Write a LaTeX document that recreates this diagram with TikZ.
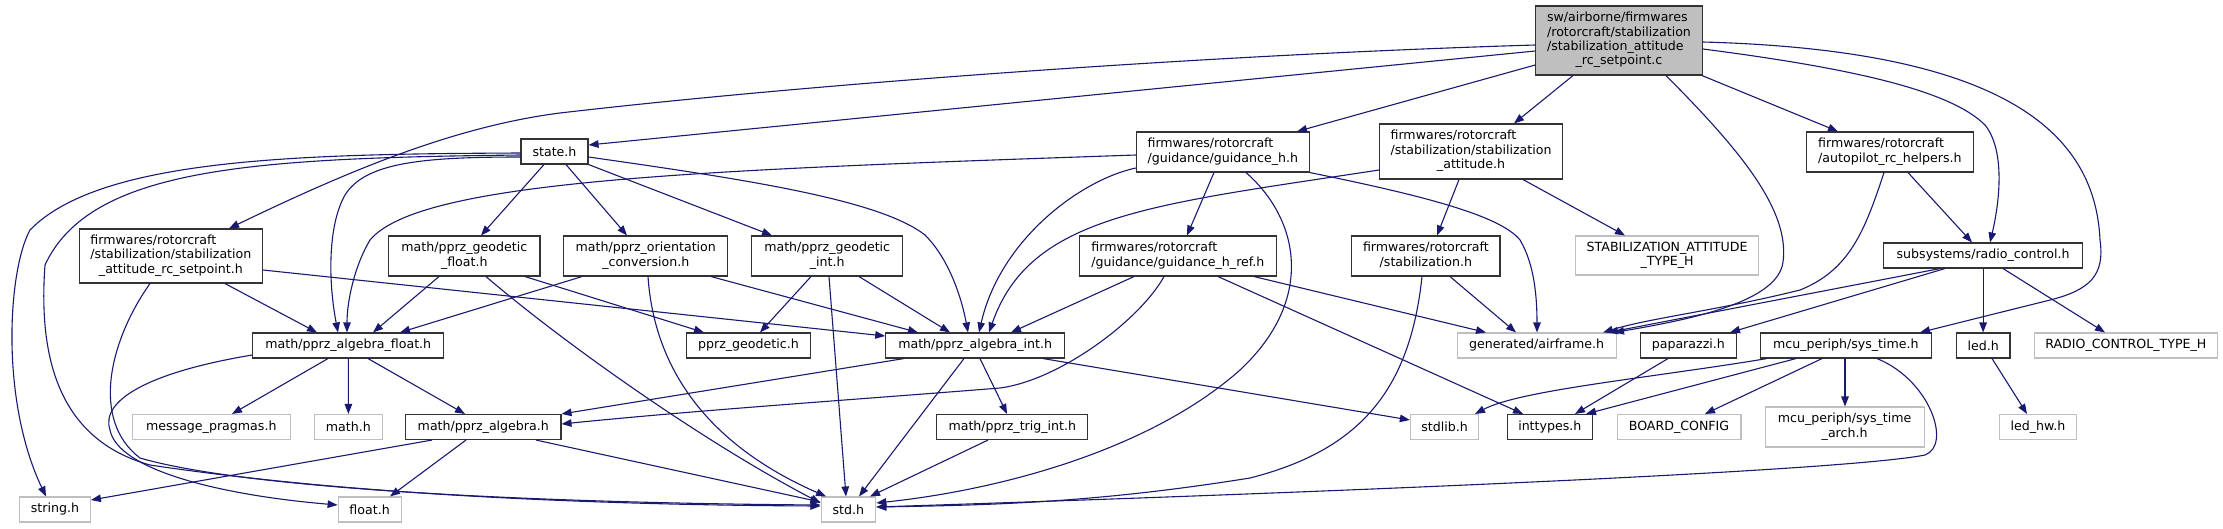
\documentclass[tikz,border=0pt]{standalone}
\usepackage{fontspec}
\setmainfont{DejaVu Sans}
\usetikzlibrary{arrows.meta}
\definecolor{edgeblue}{HTML}{191970}
\definecolor{grayborder}{HTML}{BFBFBF}
\definecolor{rootfill}{HTML}{BFBFBF}
\newcommand{\mlab}[2]{\begin{tabular}{@{}l@{}}#1\\\multicolumn{1}{@{}c@{}}{#2}\end{tabular}}
\tikzset{
  box/.style={draw=black!80, line width=1.1pt, fill=white, inner sep=0pt, minimum height=25pt, text=black},
  gbox/.style={box, draw=grayborder},
  rootbox/.style={box, fill=rootfill},
  e/.style={draw=edgeblue, line width=1.1pt, -{Triangle[length=10pt,width=7.5pt]}},
}
\begin{document}
\begin{tikzpicture}[x=1pt, y=-1pt, font=\fontsize{12.6}{14.4}\selectfont]
\useasboundingbox (0,0) rectangle (2223,528);
\fill[white] (0,0) rectangle (2223,528);
% row 1
\node[rootbox, minimum width=166.6pt, minimum height=69pt] (root) at (1619,40.5) {\mlab{sw/airborne/firmwares\\/rotorcraft/stabilization\\/stabilization\_attitude}{\_rc\_setpoint.c}};
% row 2
\node[box, minimum width=67pt] (state) at (554.5,151.5) {state.h};
\node[box, minimum width=172.9pt, minimum height=40pt] (guid) at (1222.8,152) {\mlab{firmwares/rotorcraft}{/guidance/guidance\_h.h}};
\node[box, minimum width=182.9pt, minimum height=55pt] (stabatt) at (1471,151.5) {\mlab{firmwares/rotorcraft\\/stabilization/stabilization}{\_attitude.h}};
\node[box, minimum width=167pt, minimum height=40pt] (aprc) at (1889.9,152) {\mlab{firmwares/rotorcraft}{/autopilot\_rc\_helpers.h}};
% row 3
\node[box, minimum width=183.2pt, minimum height=54pt] (rcsp) at (170.9,256) {\mlab{firmwares/rotorcraft\\/stabilization/stabilization}{\_attitude\_rc\_setpoint.h}};
\node[box, minimum width=151.4pt, minimum height=40pt] (geofloat) at (464.3,256) {\mlab{math/pprz\_geodetic}{\_float.h}};
\node[box, minimum width=164.2pt, minimum height=40pt] (orient) at (645.8,256) {\mlab{math/pprz\_orientation}{\_conversion.h}};
\node[box, minimum width=150.7pt, minimum height=40pt] (geoint) at (827.2,256) {\mlab{math/pprz\_geodetic}{\_int.h}};
\node[box, minimum width=196.5pt, minimum height=40pt] (guidref) at (1177.9,256) {\mlab{firmwares/rotorcraft}{/guidance/guidance\_h\_ref.h}};
\node[box, minimum width=148.2pt, minimum height=40pt] (stab) at (1425.9,256) {\mlab{firmwares/rotorcraft}{/stabilization.h}};
\node[gbox, minimum width=182.8pt, minimum height=39pt] (stabtype) at (1667.1,255.5) {\mlab{STABILIZATION\_ATTITUDE}{\_TYPE\_H}};
\node[box, minimum width=198.4pt] (radio) at (1983.1,255.5) {subsystems/radio\_control.h};
% row 4
\node[box, minimum width=191pt] (algf) at (348.3,345.5) {math/pprz\_algebra\_float.h};
\node[box, minimum width=124pt] (geod) at (748.4,345.5) {pprz\_geodetic.h};
\node[box, minimum width=178.9pt] (algi) at (975.2,345.5) {math/pprz\_algebra\_int.h};
\node[gbox, minimum width=159pt] (airframe) at (1536.6,345.5) {generated/airframe.h};
\node[box, minimum width=95.8pt] (paparazzi) at (1688.3,345.5) {paparazzi.h};
\node[box, minimum width=171pt] (systime) at (1845.9,345.5) {mcu\_periph/sys\_time.h};
\node[box, minimum width=53.8pt] (led) at (1983.1,345.5) {led.h};
\node[gbox, minimum width=182.8pt] (rctype) at (2125.8,345.5) {RADIO\_CONTROL\_TYPE\_H};
% row 5
\node[gbox, minimum width=157.5pt] (msgpr) at (211.3,427) {message\_pragmas.h};
\node[gbox, minimum width=68.2pt] (mathh) at (348.4,427) {math.h};
\node[box, minimum width=155.3pt] (alg) at (483.3,427) {math/pprz\_algebra.h};
\node[box, minimum width=151.1pt] (trig) at (1012.3,427) {math/pprz\_trig\_int.h};
\node[gbox, minimum width=68.2pt] (stdlib) at (1444.5,427) {stdlib.h};
\node[box, minimum width=85.4pt] (inttypes) at (1549.8,427) {inttypes.h};
\node[gbox, minimum width=123.9pt] (board) at (1679,427) {BOARD\_CONFIG};
\node[gbox, minimum width=159pt, minimum height=40pt] (sysarch) at (1844.6,427) {\mlab{mcu\_periph/sys\_time}{\_arch.h}};
\node[gbox, minimum width=76.4pt] (ledhw) at (2037.9,427) {led\_hw.h};
% row 6
\node[gbox, minimum width=70.8pt] (string) at (55,509.5) {string.h};
\node[gbox, minimum width=62.9pt] (float) at (369.6,509.5) {float.h};
\node[gbox, minimum width=54.7pt] (std) at (848.4,509.5) {std.h};

% edges from root
\draw[e] (root.west|-0,51) -- (state.east|-0,145);
\draw[e] (root.west|-0,45) .. controls (1200,55) and (800,85) .. (560,113) .. controls (450,127) and (340,175) .. (rcsp.north-|229,0);
\draw[e] (root.west|-0,65) -- (guid.north-|1297,0);
\draw[e] (root.south-|1573,0) -- (stabatt.north-|1514,0);
\draw[e] (root.south-|1702,0) -- (aprc.north-|1838,0);
\draw[e] (root.east|-0,49) .. controls (1850,68) and (1950,90) .. (1985,125) .. controls (2005,150) and (2000,200) .. (radio.north-|1990,0);
\draw[e] (root.east|-0,42) .. controls (2000,50) and (2095,130) .. (2100,240) .. controls (2105,275) and (2090,290) .. (2050,300) -- (systime.north-|1920,0);
\draw[e] (root.south-|1666,0) .. controls (1740,150) and (1790,210) .. (1783,262) .. controls (1778,300) and (1700,318) .. (airframe.north-|1614,0);
% state.h
\draw[e] (state.west|-0,153) .. controls (300,154) and (100,158) .. (30,230) .. controls (8,270) and (0,400) .. (string.north-|46,0);
\draw[e] (state.west|-0,155) .. controls (250,158) and (90,168) .. (45,265) .. controls (38,360) and (60,440) .. (150,465) .. controls (350,495) and (600,505) .. (std.west|-0,506);
\draw[e] (state.west|-0,157) .. controls (420,157) and (365,163) .. (345,195) .. controls (328,225) and (328,280) .. (algf.north-|338,0);
\draw[e] (state.south-|544,0) -- (geofloat.north-|481,0);
\draw[e] (state.south-|566,0) -- (orient.north-|627,0);
\draw[e] (state.south east) -- (geoint.north-|772,0);
\draw[e] (state.east|-0,157) .. controls (750,180) and (880,200) .. (925,235) .. controls (950,260) and (962,300) .. (algi.north-|968,0);
% rc_setpoint.h
\draw[e] (rcsp.south-|225,0) -- (algf.north-|317,0);
\draw[e] (rcsp.east|-0,270) -- (algi.west|-0,336);
\draw[e] (rcsp.south-|150,0) .. controls (110,340) and (90,420) .. (140,458) .. controls (250,490) and (550,503) .. (std.west|-0,505);
% geodetic_float
\draw[e] (geofloat.south-|439,0) -- (algf.north-|373,0);
\draw[e] (geofloat.south-|525,0) -- (geod.north-|704,0);
\draw[e] (geofloat.south-|486,0) .. controls (560,340) and (700,440) .. (std.west|-0,503);
% orientation_conversion
\draw[e] (orient.south-|582,0) -- (algf.north-|400,0);
\draw[e] (orient.south-|648,0) .. controls (655,380) and (720,450) .. (std.north-|826,0);
\draw[e] (orient.south-|711,0) -- (algi.north-|918,0);
% geodetic_int
\draw[e] (geoint.south-|811,0) -- (geod.north-|760,0);
\draw[e] (geoint.south-|829,0) -- (std.north-|846,0);
\draw[e] (geoint.south-|859,0) -- (algi.north-|950,0);
% guidance_h.h
\draw[e] (guid.west|-0,155) .. controls (700,170) and (420,180) .. (370,240) .. controls (355,265) and (347,300) .. (algf.north-|347,0);
\draw[e] (guid.west|-0,168) .. controls (1080,180) and (1000,240) .. (algi.north-|979,0);
\draw[e] (guid.south-|1214,0) -- (guidref.north-|1187,0);
\draw[e] (guid.south-|1246,0) .. controls (1300,220) and (1315,300) .. (1240,370) .. controls (1150,450) and (1000,490) .. (std.east|-0,503);
\draw[e] (guid.south east) .. controls (1420,195) and (1500,215) .. (1520,240) .. controls (1535,265) and (1537,300) .. (airframe.north-|1537,0);
% stabilization_attitude.h
\draw[e] (stabatt.west|-0,170) .. controls (1150,205) and (1030,215) .. (algi.north-|989,0);
\draw[e] (stabatt.south-|1459,0) -- (stab.north-|1437,0);
\draw[e] (stabatt.south-|1523,0) -- (stabtype.north-|1625,0);
% guidance_h_ref.h
\draw[e] (guidref.south-|1134,0) -- (algi.north-|1011,0);
\draw[e] (guidref.south-|1164,0) .. controls (1140,320) and (1060,380) .. (1000,388) .. controls (850,400) and (700,410) .. (alg.east|-0,424);
\draw[e] (guidref.south-|1254,0) -- (airframe.north-|1486,0);
\draw[e] (guidref.south-|1218,0) -- (inttypes.north-|1523,0);
% stabilization.h
\draw[e] (stab.south-|1450,0) -- (airframe.north-|1516,0);
\draw[e] (stab.south-|1422,0) .. controls (1410,390) and (1360,450) .. (1250,478) .. controls (1100,502) and (1000,505) .. (std.east|-0,507);
% autopilot_rc_helpers.h
\draw[e] (aprc.south-|1908,0) -- (radio.north-|1972,0);
\draw[e] (aprc.south-|1884,0) .. controls (1865,230) and (1850,270) .. (1800,290) .. controls (1720,310) and (1650,318) .. (airframe.north-|1603,0);
% radio_control.h
\draw[e] (radio.south-|1940,0) -- (airframe.north-|1608,0);
\draw[e] (radio.south-|1945,0) -- (paparazzi.north-|1730,0);
\draw[e] (radio.south) -- (led.north);
\draw[e] (radio.south-|2003,0) -- (rctype.north-|2105,0);
% paparazzi.h
\draw[e] (paparazzi.south-|1668,0) -- (inttypes.north-|1575,0);
% sys_time.h
\draw[e] (systime.south-|1767,0) .. controls (1650,378) and (1520,390) .. (stdlib.north-|1475,0);
\draw[e] (systime.south-|1796,0) -- (inttypes.north-|1586,0);
\draw[e] (systime.south-|1822,0) -- (board.north-|1705,0);
\draw[e] (systime.south-|1845,0) -- (sysarch.north-|1845,0);
\draw[e] (systime.south-|1877,0) .. controls (1930,380) and (1952,445) .. (1925,455) .. controls (1850,470) and (1400,490) .. (std.east|-0,507);
% led.h
\draw[e] (led.south-|1992,0) -- (ledhw.north-|2027,0);
% pprz_algebra_float.h
\draw[e] (algf.west|-0,355) .. controls (150,372) and (100,400) .. (110,430) .. controls (118,470) and (220,495) .. (float.west|-0,505);
\draw[e] (algf.south-|328,0) -- (msgpr.north-|232,0);
\draw[e] (algf.south) -- (mathh.north);
\draw[e] (algf.south-|368,0) -- (alg.north-|465,0);
% pprz_algebra_int.h
\draw[e] (algi.south-|904,0) -- (alg.north east);
\draw[e] (algi.south-|964,0) -- (std.north-|859,0);
\draw[e] (algi.south-|980,0) -- (trig.north-|1007,0);
\draw[e] (algi.south-|1043,0) -- (stdlib.west|-0,420);
% pprz_algebra.h
\draw[e] (alg.south-|432,0) -- (string.east|-0,500);
\draw[e] (alg.south-|466,0) -- (float.north-|390,0);
\draw[e] (alg.south-|536,0) -- (std.west|-0,502);
% pprz_trig_int.h
\draw[e] (trig.south-|988,0) -- (std.north-|870,0);
\end{tikzpicture}
\end{document}
